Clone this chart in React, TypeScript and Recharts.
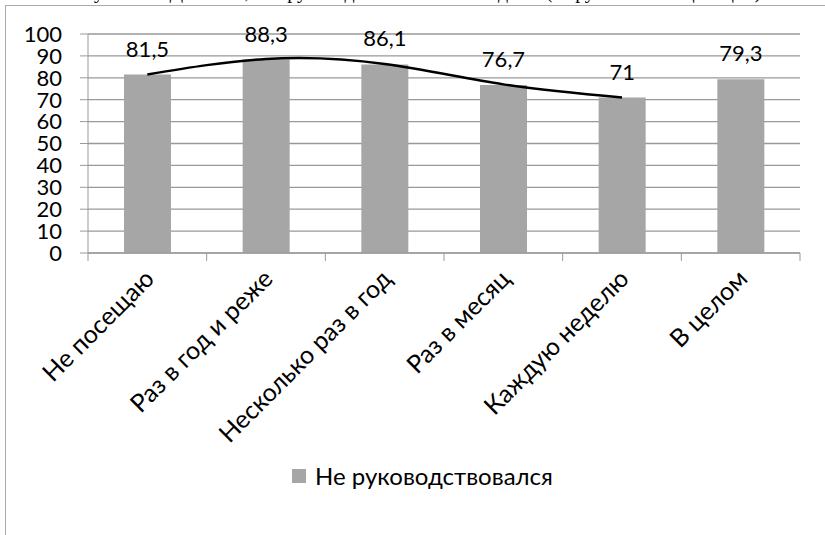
import { ComposedChart, Bar, Line, XAxis, YAxis, CartesianGrid, LabelList, Legend } from "recharts";

const categories = ["Не посещаю", "Раз в год и реже", "Несколько раз в год", "Раз в месяц", "Каждую неделю", "В целом"];
const values = [81.5, 88.3, 86.1, 76.7, 71, 79.3];
// smooth trend curve (no point for "В целом")
const trend = [81.5, 88.6, 86.3, 77.0, 71.0, null];
const yTicks = [0, 10, 20, 30, 40, 50, 60, 70, 80, 90, 100];
const seriesName = "Не руководствовался";
const caption = "Рисунок 5 – Доля тех, кто руководствовался заповедями (в группах посещающих)";

const data = categories.map((name, i) => ({ name, value: values[i], trend: trend[i] }));

const FONT = "Lato, 'Noto Sans', sans-serif";
const GRID = "#999999";
const BAR = "#a6a6a6";

const XTick = (props: any) => {
  const { x, y, payload, index } = props;
  const half = payload.offset || 59;
  return (
    <g>
      <line x1={x - half} x2={x - half} y1={y} y2={y + 8} stroke={GRID} />
      {index === categories.length - 1 && <line x1={x + half} x2={x + half} y1={y} y2={y + 8} stroke={GRID} />}
      <text
        transform={`translate(${x - 4},${y + 15}) rotate(-45)`}
        textAnchor="end"
        dy="0.7em"
        fontSize={25}
        fontFamily={FONT}
        fill="#000"
      >
        {payload.value}
      </text>
    </g>
  );
};

const LegendBox = () => (
  <div style={{ display: "flex", alignItems: "center", justifyContent: "center", fontFamily: FONT, fontSize: 24, paddingLeft: 20 }}>
    <span style={{ width: 14, height: 14, background: BAR, display: "inline-block", marginRight: 9 }} />
    <span>{seriesName}</span>
  </div>
);

export default function App() {
  return (
    <div style={{ position: "absolute", top: 0, left: 0, width: 825, height: 535, background: "#fff", overflow: "hidden" }}>
      <div style={{ position: "absolute", top: -20, left: 0, width: 825, textAlign: "center", fontFamily: "'Liberation Serif', serif", fontSize: 20, whiteSpace: "nowrap" }}>
        {caption}
      </div>
      <div style={{ position: "absolute", top: 5, left: 5, width: 820, height: 530, borderTop: "1px solid #aaa", borderLeft: "1px solid #aaa", background: "#fff" }} />
      <div style={{ position: "absolute", top: 0, left: 0 }}>
        <ComposedChart width={825} height={535} data={data} margin={{ top: 34, right: 25, bottom: 0, left: 0 }}>
          <CartesianGrid vertical={false} stroke={GRID} strokeWidth={1.3} />
          <XAxis
            dataKey="name"
            height={282}
            interval={0}
            tickSize={0}
            tickMargin={0}
            tickLine={false}
            axisLine={{ stroke: GRID }}
            tick={<XTick />}
          />
          <YAxis
            width={88}
            domain={[0, 100]}
            ticks={yTicks}
            interval={0}
            tickSize={8}
            tickMargin={18}
            tickLine={{ stroke: GRID }}
            axisLine={{ stroke: GRID }}
            tick={{ fontSize: 22, fontFamily: FONT, fill: "#000" }}
          />
          <Legend
            layout="horizontal"
            verticalAlign="middle"
            align="center"
            wrapperStyle={{ top: 461, left: 0, width: 825 }}
            content={<LegendBox />}
          />
          <Bar dataKey="value" name={seriesName} fill={BAR} barSize={47} isAnimationActive={false}>
            <LabelList
              dataKey="value"
              position="top"
              offset={18}
              fontSize={22}
              fontFamily={FONT}
              fill="#000"
              formatter={(v: any) => String(v).replace(".", ",")}
            />
          </Bar>
          <Line
            dataKey="trend"
            type="natural"
            stroke="#000"
            strokeWidth={2.5}
            dot={false}
            activeDot={false}
            legendType="none"
            isAnimationActive={false}
          />
        </ComposedChart>
      </div>
    </div>
  );
}
